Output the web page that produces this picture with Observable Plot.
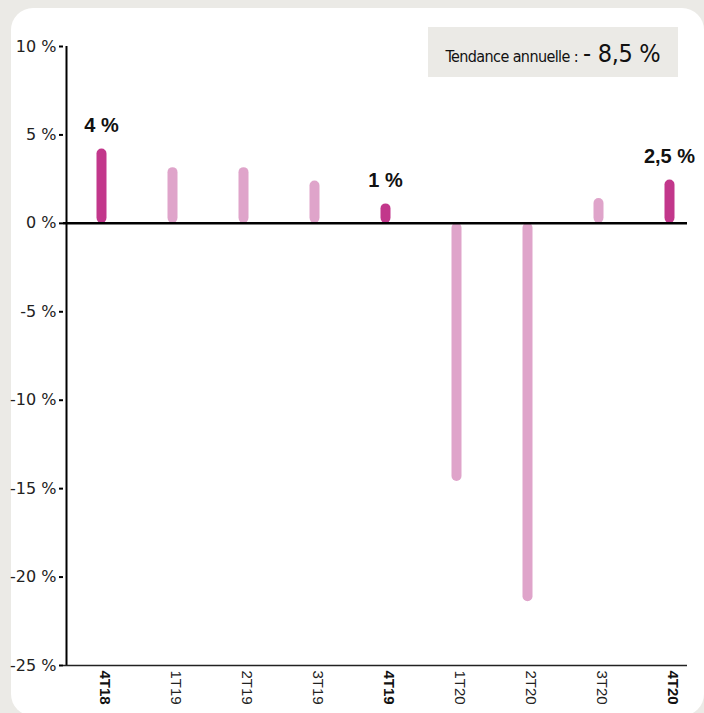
<!DOCTYPE html>
<html><head><meta charset="utf-8">
<script src="https://cdn.jsdelivr.net/npm/d3@7"></script>
<script src="https://cdn.jsdelivr.net/npm/@observablehq/plot@0.6"></script>
<style>
html,body{margin:0;padding:0;background:#ebeae6;width:704px;height:713px;overflow:hidden;}
#card{position:absolute;left:11px;top:8px;width:693px;height:708px;background:#fff;border-radius:22px;}
#chart{position:absolute;left:0;top:0;}
#trend{position:absolute;left:428px;top:27px;width:250px;height:50px;background:#ebeae6;display:flex;align-items:center;justify-content:center;font-family:"DejaVu Sans",sans-serif;font-stretch:condensed;color:#111;}
#trend .in{display:flex;align-items:baseline;margin-top:3px;}
#trend .lbl{font-size:16px;letter-spacing:-0.6px;}
#trend .val{font-size:25px;margin-left:5px;letter-spacing:-0.3px;}
svg text.cond{font-stretch:condensed;}
</style></head><body>
<div id="card"></div>
<div id="chart"></div>
<div id="trend"><div class="in"><span class="lbl">Tendance annuelle :</span><span class="val">- 8,5 %</span></div></div>
<script>
const quarters = ["4T18","1T19","2T19","3T19","4T19","1T20","2T20","3T20","4T20"];
const values = [4.2, 3.15, 3.15, 2.4, 1.1, -14.6, -21.4, 1.4, 2.45];
const highlighted = ["4T18","4T19","4T20"];
const highlightLabels = ["4 %","1 %","2,5 %"];
const yTicks = [10, 5, 0, -5, -10, -15, -20, -25];

const dark = "#c2378b", light = "#dfa4ca";
const data = quarters.map((q, i) => ({q, v: values[i], hi: highlighted.includes(q)}));
const labelData = highlighted.map((q, i) => ({q, v: values[quarters.indexOf(q)], t: highlightLabels[i]}));
const sans = "'Liberation Sans',Arial,sans-serif";

const plot = Plot.plot({
  width: 704, height: 713,
  marginLeft: 63, marginRight: 17, marginTop: 46, marginBottom: 48,
  style: {background: "transparent", fontFamily: sans, fontSize: "16px", color: "#222"},
  x: {type: "point", domain: quarters, range: [96, 670], padding: 0, axis: null},
  y: {domain: [-25, 10], axis: null},
  color: {type: "identity"},
  marks: [
    Plot.axisY({ticks: yTicks, label: null, tickFormat: d => `${d} %`, tickSize: 4, tickPadding: 3, strokeWidth: 2, stroke: "#000", fontFamily: "'DejaVu Sans',sans-serif", fontSize: 16, fill: "#222", className: "cond"}),
    Plot.ruleX([quarters[0]], {y1: 10, y2: -25, dx: -33, stroke: "#000", strokeWidth: 2}),
    Plot.ruleY([-25], {stroke: "#222", strokeWidth: 1.5}),
    Plot.ruleX(data, {x: "q", y1: d => Math.max(0, d.v), y2: d => Math.min(0, d.v), stroke: d => d.hi ? dark : light, strokeWidth: 10, strokeLinecap: "round", insetTop: 5, insetBottom: 5, dx: 2}),
    Plot.ruleY([0], {stroke: "#000", strokeWidth: 2.5}),
    Plot.text(labelData, {x: "q", y: "v", text: "t", dy: -23, dx: 2, fontSize: 20, fontWeight: "bold", fontFamily: sans, fill: "#111"}),
    Plot.text(quarters.filter(q => !highlighted.includes(q)), {x: d => d, frameAnchor: "bottom", rotate: 90, textAnchor: "start", dy: 5, fontSize: 15, fontFamily: sans, fill: "#222"}),
    Plot.text(highlighted, {x: d => d, frameAnchor: "bottom", rotate: 90, textAnchor: "start", dy: 5, fontSize: 15, fontWeight: "bold", fontFamily: sans, fill: "#111"})
  ]
});
document.getElementById("chart").appendChild(plot);
</script>
</body></html>
